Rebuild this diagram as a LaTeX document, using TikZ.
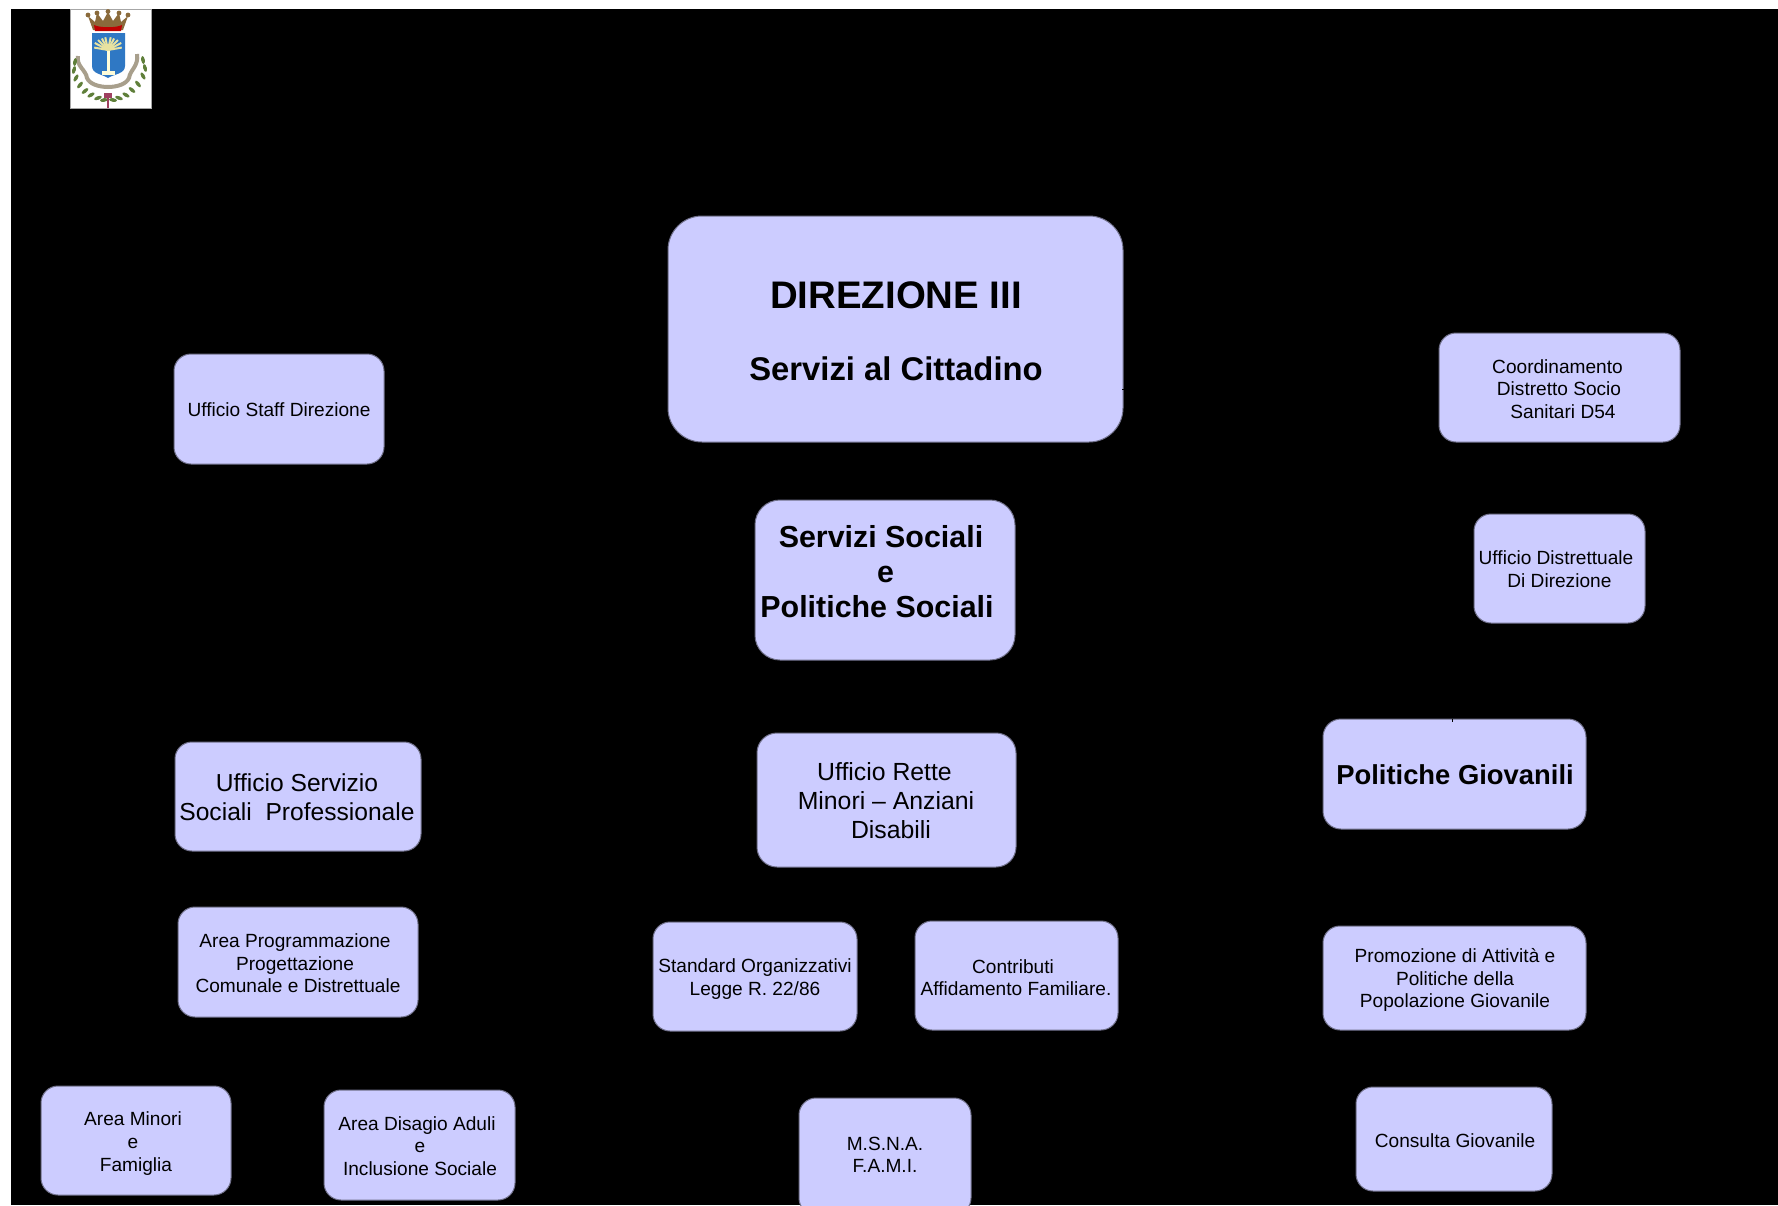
\documentclass[tikz,border=0pt]{standalone}
\usepackage{fontspec}
\setmainfont{Liberation Sans}
\definecolor{boxfill}{HTML}{CCCCFF}
\definecolor{boxline}{HTML}{70708A}
\definecolor{shield}{HTML}{2F78C4}
\definecolor{crown}{HTML}{8A6A3B}
\definecolor{leaf}{HTML}{5F7F3A}
\definecolor{ribbon}{HTML}{A89F8C}
\definecolor{frond}{HTML}{E8E2A0}
\tikzset{
  boxshape/.style={draw=boxline,fill=boxfill,line width=0.5pt,inner sep=0pt},
  lbl/.style={align=center,inner sep=0pt,text=black},
}
\newcommand{\fnt}[2]{\fontsize{#1}{#2}\selectfont}
\newcommand{\bx}[6]{% name x1 y1 x2 y2 radius
  \node[boxshape,rounded corners=#6*0.5pt,minimum width={(#4-#2)*0.5pt},minimum height={(#5-#3)*0.5pt}]
    (#1) at ({(#2+#4)/2},{(#3+#5)/2}) {};}
\newcommand{\tx}[5]{% name cx cy font text
  \node[lbl,font={#4}] (#1) at (#2,#3) {#5};}
\newcommand{\smalltxt}{\fnt{9.55}{11.3}}
\begin{document}
\begin{tikzpicture}[x=0.5pt,y=-0.5pt]
\useasboundingbox (0,0) rectangle (1778,1205);
\begin{scope}
\clip (0,0) rectangle (1778,1205);
\fill[white] (0,0) rectangle (1778,1205);
\fill[black] (11,9) rectangle (1778,1205);
% logo
\fill[white] (70,9) rectangle (151.5,108);
\draw[gray!70,line width=0.3pt] (70,9) rectangle (151.5,108);
\fill[crown] (88,16) -- (95,22) -- (97,13) -- (103,21) -- (108,12) -- (113,21) -- (119,13) -- (121,22) -- (128,16) -- (123,30) -- (93,30) -- cycle;
\foreach \cx/\cy in {88/15,97/13,108/11.5,119/13,128/15}{\fill[crown] (\cx,\cy) circle[radius=2.4];}
\fill[red!75!black] (94,25) .. controls (100,28) and (116,28) .. (122,25) -- (121,31) -- (95,31) -- cycle;
\fill[shield] (92,33) -- (125,33) -- (125,66) .. controls (125,74) and (114,74) .. (108,78) .. controls (102,74) and (92,74) .. (92,66) -- cycle;
\fill[white!85!yellow] (107,48) rectangle (109.5,72);
\foreach \a/\l in {-80/14,-62/15,-45/14,-28/13,-12/13,12/13,28/13,45/14,62/15,80/14}{
  \draw[frond,line width=1pt] (108,50) -- ++({\a-90}:\l);}
\fill[white!85!yellow] (102,71) rectangle (115,75);
\draw[ribbon,line width=2pt] (78,56) .. controls (76,66) and (86,70) .. (87,78) .. controls (92,90) and (124,90) .. (129,78) .. controls (130,70) and (139,66) .. (137,54);
\foreach \x/\y/\r in {75/62/80,74/70/75,76/78/60,80/85/50,85/91/40,91/95/30,98/98/20,104/100/10,
  143/60/100,145/68/105,143/76/120,138/84/130,132/90/140,126/95/150,119/98/160,113/100/170}{
  \fill[leaf] (\x,\y) ellipse[x radius=4,y radius=1.8,rotate=\r];}
\fill[purple!50!gray] (104,93) rectangle (112,98);
\draw[purple!50!gray,line width=0.8pt] (108,95) -- (108,108);
% boxes
\bx{dir}{668}{216}{1123}{442}{34}
\bx{soc}{755}{500}{1015}{660}{25}
\bx{ret}{757}{733}{1016}{867}{20}
\bx{sta}{174}{354}{384}{464}{17}
\bx{coo}{1439}{333}{1680}{442}{17}
\bx{dis}{1474}{514}{1645}{623}{17}
\bx{gio}{1323}{719}{1586}{829}{18}
\bx{ser}{175}{742}{421}{851}{17}
\bx{pro}{178}{907}{418}{1017}{17}
\bx{std}{653}{922}{857}{1031}{17}
\bx{con}{915}{921}{1118}{1030}{17}
\bx{pgi}{1323}{926}{1586}{1030}{17}
\bx{cgi}{1356}{1087}{1552}{1191}{17}
\bx{min}{41}{1086}{231}{1195}{17}
\bx{dsg}{324}{1090}{515}{1200}{17}
\bx{msn}{799}{1098}{971}{1215}{17}
% labels
\tx{tdira}{896}{295}{\fnt{19.2}{23}\bfseries}{DIREZIONE III}
\tx{tdirb}{896}{368.5}{\fnt{16.4}{20}\bfseries}{Servizi al Cittadino}
\tx{tsoc}{881}{571.5}{\fnt{15.2}{17.6}\bfseries}{Servizi Sociali\\\hspace*{4.5pt}e\\Politiche Sociali\hspace*{4pt}}
\tx{tret}{886}{801}{\fnt{12.4}{14.5}}{Ufficio Rette\hspace*{1.5pt}\\Minori – Anziani\\\hspace*{5pt}Disabili}
\tx{tsta}{279}{410}{\smalltxt}{Ufficio Staff Direzione}
\tx{tcoo}{1559}{389}{\smalltxt}{Coordinamento\hspace*{1.5pt}\\Distretto Socio\\\hspace*{4pt}Sanitari D54}
\tx{tdis}{1556}{569}{\smalltxt}{Ufficio Distrettuale\\\hspace*{3.4pt}Di Direzione}
\tx{tgio}{1455}{774.5}{\fnt{13.7}{16}\bfseries}{Politiche Giovanili}
\tx{tser}{297}{797}{\fnt{12.3}{14.2}}{Ufficio Servizio\\Sociali\ \ Professionale}
\tx{tpro}{295}{963.5}{\smalltxt}{Area Programmazione\\Progettazione\\\hspace*{3pt}Comunale e Distrettuale}
\tx{tstd}{755}{979}{\smalltxt}{Standard Organizzativi\\Legge R. 22/86}
\tx{tcon}{1016}{977.5}{\smalltxt}{Contributi\hspace*{3pt}\\Affidamento Familiare.}
\tx{tpgi}{1455}{980}{\smalltxt}{Promozione di Attività e\\Politiche della\\Popolazione Giovanile}
\tx{tcgi}{1455}{1140.5}{\smalltxt}{Consulta Giovanile}
\tx{tmin}{133}{1143.5}{\smalltxt}{Area Minori\\e\hspace*{1pt}\\\hspace*{3pt}Famiglia}
\tx{tdsg}{420}{1146}{\smalltxt}{Area Disagio Aduli\hspace*{3pt}\\e\\Inclusione Sociale}
\tx{tmsn}{885}{1155}{\smalltxt}{M.S.N.A.\\F.A.M.I.}
% stub ends of connectors
\coordinate (gtick) at (1452,722);
\coordinate (dtick) at (1121.5,389);
\draw[black,line width=0.4pt] (gio.north -| gtick) -- (gtick);
\draw[black,line width=0.4pt] (dir.east |- dtick) -- (dtick);
\end{scope}
\end{tikzpicture}
\end{document}
